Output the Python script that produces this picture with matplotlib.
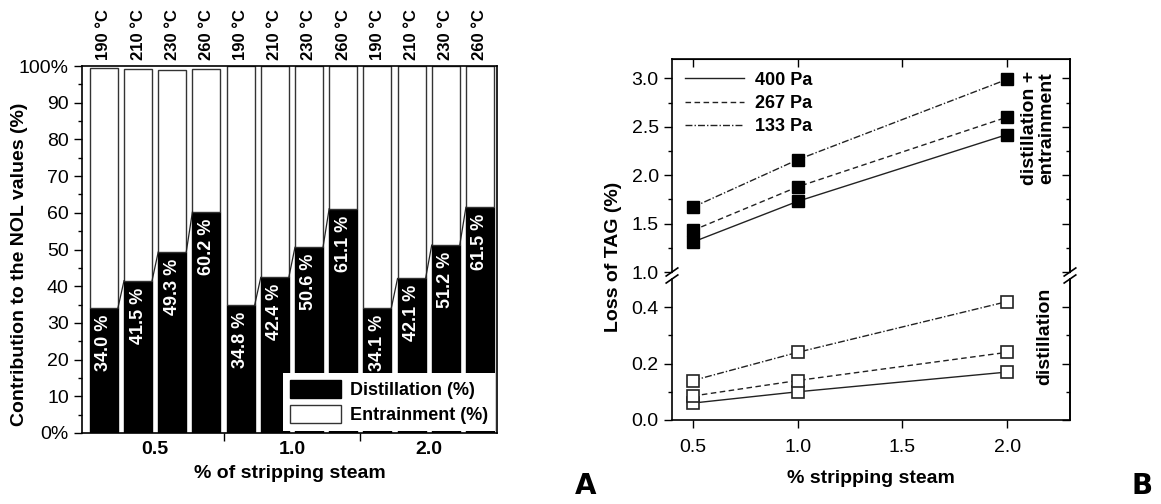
import matplotlib
matplotlib.use('Agg')
import matplotlib.pyplot as plt
import numpy as np

plt.rcParams['font.family'] = ['Liberation Sans', 'DejaVu Sans']

# panel A data
temps = ['190 °C', '210 °C', '230 °C', '260 °C'] * 3
steam_groups = ['0.5', '1.0', '2.0']
distillation = [34.0, 41.5, 49.3, 60.2, 34.8, 42.4, 50.6, 61.1, 34.1, 42.1, 51.2, 61.5]
total = [99.4, 99.2, 98.9, 99.2, 100, 100, 100, 100, 100, 100, 100, 100]

# panel B data
steam = [0.5, 1.0, 2.0]
pressures = ['400 Pa', '267 Pa', '133 Pa']
loss_total = {
    '400 Pa': [1.31, 1.73, 2.42],
    '267 Pa': [1.43, 1.88, 2.60],
    '133 Pa': [1.67, 2.16, 2.99],
}
loss_dist = {
    '400 Pa': [0.06, 0.10, 0.17],
    '267 Pa': [0.085, 0.14, 0.24],
    '133 Pa': [0.14, 0.24, 0.42],
}
styles = {'400 Pa': '-', '267 Pa': (0, (4, 2.5)), '133 Pa': (0, (5, 1.5, 1, 1.5))}

fig = plt.figure(figsize=(11.61, 5.04), dpi=100)

# ---------- A ----------
ax = fig.add_axes([0.0706, 0.1409, 0.3575, 0.7281])
x = np.arange(len(distillation))
w = 0.82
entr = [t - d for t, d in zip(total, distillation)]
ax.bar(x, distillation, w, color='black', edgecolor='black', lw=1, label='Distillation (%)')
ax.bar(x, entr, w, bottom=distillation, color='white', edgecolor='#333333', lw=1,
       label='Entrainment (%)')

for g in range(3):
    for k in range(3):
        i = g * 4 + k
        ax.plot([i + w / 2, i + 1 - w / 2], [distillation[i], distillation[i + 1]],
                color='#222222', lw=0.9)

for i, v in enumerate(distillation):
    ax.text(i, v - 1.8, f'{v:.1f} %', rotation=90, ha='center', va='top',
            color='white', fontsize=13, fontweight='bold')
    ax.annotate(temps[i], (i, 100), xytext=(0, 4), textcoords='offset points',
                rotation=90, ha='center', va='bottom', fontsize=12, fontweight='bold')

ax.set_xlim(-0.64, 11.5)
ax.set_ylim(0, 100)
ax.set_yticks(range(0, 101, 10))
ax.set_yticklabels(['0%'] + [str(v) for v in range(10, 100, 10)] + ['100%'])
ax.set_yticks(range(5, 100, 10), minor=True)
ax.set_xticks([3.5, 7.5])
ax.set_xticklabels([])
ax.set_xticks([1.5, 5.5, 9.5], minor=True)
ax.set_xticklabels(steam_groups, minor=True, fontweight='bold')
ax.tick_params(axis='x', which='minor', length=0, labelsize=14, pad=6)
ax.tick_params(axis='x', which='major', direction='out', length=6, width=1)
ax.tick_params(axis='y', which='major', direction='out', length=6, width=1, labelsize=14)
ax.tick_params(axis='y', which='minor', direction='out', length=3, width=1)
for s in ax.spines.values():
    s.set_linewidth(1.2)
ax.set_xlabel('% of stripping steam', fontsize=14, fontweight='bold', labelpad=5)
fig.text(0.017, 0.476, 'Contribution to the NOL values (%)', rotation=90, ha='center',
         va='center', fontsize=14, fontweight='bold')
leg = ax.legend(loc='lower right', prop={'weight': 'bold', 'size': 13},
                frameon=True, fancybox=False, edgecolor='white', framealpha=1,
                borderaxespad=0.1, handlelength=2.8, handleheight=1.2, labelspacing=0.3,
                borderpad=0.4, handletextpad=0.5)
leg.get_frame().set_linewidth(0)

# ---------- B ----------
ax1 = fig.add_axes([0.5788, 0.4603, 0.3428, 0.4226])
ax2 = fig.add_axes([0.5788, 0.1667, 0.3428, 0.2797])

for p in pressures:
    ax1.plot(steam, loss_total[p], linestyle=styles[p], color='#222222', lw=1, label=p)
    ax1.plot(steam, loss_total[p], 's', color='black', ms=9, ls='none')
    ax2.plot(steam, loss_dist[p], linestyle=styles[p], color='#222222', lw=1)
    ax2.plot(steam, loss_dist[p], 's', mfc='white', mec='#222222', mew=1.2, ms=9, ls='none')

for a in (ax1, ax2):
    a.set_xlim(0.4, 2.3)
    for s in a.spines.values():
        s.set_linewidth(1.2)
    a.tick_params(axis='both', which='major', direction='out', length=6, width=1, labelsize=14)
    a.tick_params(axis='both', which='minor', direction='out', length=3, width=1)

ax1.set_ylim(1.0, 3.2)
ax1.set_yticks([1.0, 1.5, 2.0, 2.5, 3.0])
ax1.set_yticks(np.arange(1.25, 3.2, 0.5), minor=True)
ax1.set_xticks([])
ax1.spines['bottom'].set_visible(False)
ax2.set_ylim(0, 0.5)
ax2.set_yticks([0.0, 0.2, 0.4])
ax2.set_yticks([0.1, 0.3], minor=True)
ax2.set_xticks([0.5, 1.0, 1.5, 2.0])
ax2.spines['top'].set_visible(False)
ax2.tick_params(axis='x', pad=8)

top = ax1.secondary_xaxis('top')
top.set_xticks([0.5, 1.0, 1.5, 2.0])
top.tick_params(direction='in', length=6, width=1, labeltop=False)
for a, maj, mn in ((ax1, [1.0, 1.5, 2.0, 2.5, 3.0], np.arange(1.25, 3.2, 0.5)),
                   (ax2, [0.0, 0.2, 0.4], [0.1, 0.3])):
    r = a.secondary_yaxis('right')
    r.set_yticks(maj)
    r.set_yticks(mn, minor=True)
    r.tick_params(which='major', direction='in', length=6, width=1, labelright=False)
    r.tick_params(which='minor', direction='in', length=3, width=1)
    r.spines['right'].set_linewidth(1.2)

ax1.legend(loc='upper left', frameon=False, prop={'weight': 'bold', 'size': 13},
           handlelength=3.3, labelspacing=0.35, borderaxespad=0.3, handletextpad=0.6)
ax1.text(0.92, 0.676, 'distillation +\nentrainment', transform=ax1.transAxes, rotation=90,
         ha='center', va='center', fontsize=14, fontweight='bold', linespacing=1.0)
ax2.text(0.937, 0.59, 'distillation', transform=ax2.transAxes, rotation=90,
         ha='center', va='center', fontsize=14, fontweight='bold')
ax2.set_xlabel('% stripping steam', fontsize=14, fontweight='bold', labelpad=10)
fig.text(0.528, 0.49, 'Loss of TAG (%)', rotation=90, ha='center', va='center',
         fontsize=14, fontweight='bold')

# break marks
for xf in (0.5788, 0.9216):
    for yf in (1 - 272 / 504, 1 - 279 / 504):
        fig.add_artist(plt.Line2D([xf - 0.005, xf + 0.005], [yf - 0.008, yf + 0.008],
                                  color='black', lw=1.2, transform=fig.transFigure))

fig.text(0.495, 0.02, 'A', fontsize=20, fontweight='bold', family='DejaVu Sans')
fig.text(0.975, 0.02, 'B', fontsize=20, fontweight='bold', family='DejaVu Sans')

fig.savefig('out.png', dpi=100)
